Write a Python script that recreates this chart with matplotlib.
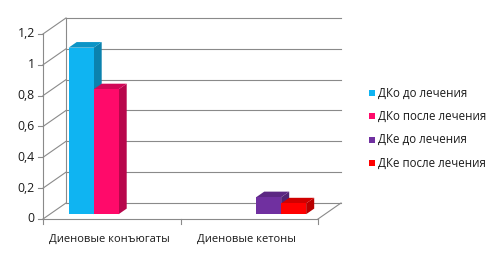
import numpy as np
import matplotlib.pyplot as plt
from matplotlib.patches import Polygon
from matplotlib.colors import to_rgb

# data
categories = ['Диеновые конъюгаты', 'Диеновые кетоны']
series = ['ДКо до лечения', 'ДКо после лечения', 'ДКе до лечения', 'ДКе после лечения']
values = [
    [1.08, 0.0],   # ДКо до лечения
    [0.81, 0.0],   # ДКо после лечения
    [0.0, 0.11],   # ДКе до лечения
    [0.0, 0.07],   # ДКе после лечения
]
colors = ['#0FB4F2', '#FF0A6A', '#7030A0', '#FF0000']
yticks = [0, 0.2, 0.4, 0.6, 0.8, 1.0, 1.2]
ytick_labels = ['0', '0,2', '0,4', '0,6', '0,8', '1', '1,2']

plt.rcParams['font.family'] = ['Open Sans', 'DejaVu Sans']

fig = plt.figure(figsize=(5.04, 2.56), dpi=100)
ax = fig.add_axes([0, 0, 1, 1])
# one category = 137.5 px, one value unit = 154.2 px
ax.set_xlim(-43 / 137.5, (504 - 43) / 137.5)
ax.set_ylim(-37 / 154.2, (256 - 37) / 154.2)
ax.axis('off')

# 3D depth offset (back wall shift)
dx, dy = 23 / 137.5, 16 / 154.2
ncat = len(categories)
ymax = yticks[-1]
grid_c = '#8a8a8a'
lw = 0.8

# back wall gridlines and left wall diagonals
for v in yticks:
    ax.plot([dx, ncat + dx], [v + dy, v + dy], color=grid_c, lw=lw, zorder=1)
    ax.plot([0, dx], [v, v + dy], color=grid_c, lw=lw, zorder=1)
    ax.plot([-0.035, 0], [v, v], color=grid_c, lw=lw, zorder=1)
ax.plot([dx, dx], [dy, ymax + dy], color=grid_c, lw=lw, zorder=1)
ax.plot([0, 0], [0, ymax], color=grid_c, lw=lw, zorder=1)
# floor
ax.plot([0, ncat], [0, 0], color=grid_c, lw=lw, zorder=1)
ax.plot([ncat, ncat + dx], [0, dy], color=grid_c, lw=lw, zorder=1)
for c in range(ncat + 1):
    ax.plot([c, c], [0, -0.03], color=grid_c, lw=lw, zorder=1)

for v, lab in zip(yticks, ytick_labels):
    ax.text(-0.06, v, lab, ha='right', va='center', fontsize=8.8, color='#1a1a1a')
for c, lab in enumerate(categories):
    ax.text(c + 0.48, -0.135, lab, ha='center', va='center', fontsize=8, color='#1a1a1a')

# bars
w = 25 / 137.5
gap = (1 - len(series) * w) / 2
f0, f1 = 0.3, 0.65  # front / back plane of bars as depth fraction
ox, oy = f0 * dx, f0 * dy
sx, sy = (f1 - f0) * dx, (f1 - f0) * dy
z = 2
for c in range(ncat):
    for i, (name, col) in enumerate(zip(series, colors)):
        v = values[i][c]
        if v <= 0:
            continue
        x0 = c + gap + i * w + ox
        y0 = oy
        rgb = np.array(to_rgb(col))
        ax.bar(x0, v, width=w, bottom=y0, align='edge', color=col, zorder=z, linewidth=0)
        side = Polygon([[x0 + w, y0], [x0 + w + sx, y0 + sy], [x0 + w + sx, y0 + v + sy], [x0 + w, y0 + v]],
                       closed=True, facecolor=rgb * 0.72, edgecolor='none', zorder=z - 0.5)
        top = Polygon([[x0, y0 + v], [x0 + sx, y0 + v + sy], [x0 + w + sx, y0 + v + sy], [x0 + w, y0 + v]],
                      closed=True, facecolor=rgb * 0.82, edgecolor='none', zorder=z - 0.5)
        ax.add_patch(side)
        ax.add_patch(top)
        z += 1

# legend
for i, (name, col) in enumerate(zip(series, colors)):
    ypix = 256 - (93 + i * 23.3)
    ax.scatter([(368 + 3.5 - 43) / 137.5], [(ypix - 37) / 154.2], marker='s', s=24, color=col, zorder=10, linewidths=0)
    ax.text((378 - 43) / 137.5, (ypix - 37) / 154.2, name, ha='left', va='center', fontsize=8.3, color='#1a1a1a')

fig.savefig('out.png', dpi=100)
